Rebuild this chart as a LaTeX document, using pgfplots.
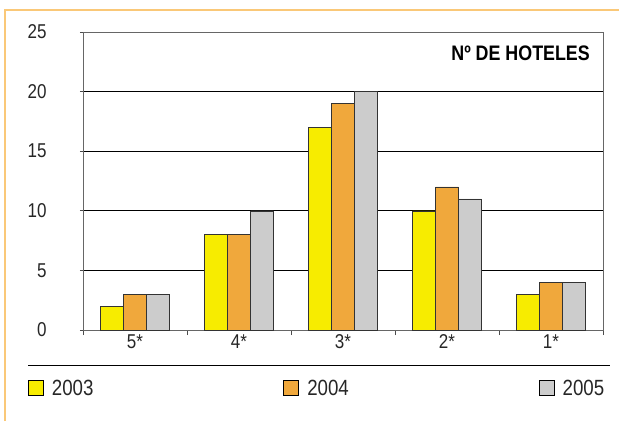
\documentclass[border=0pt]{standalone}
\usepackage{pgfplots}
\pgfplotsset{compat=1.18}
\usepackage{fontspec}
\setmainfont{Liberation Sans}[FakeStretch=0.85]
\definecolor{cyel}{RGB}{247,236,0}
\definecolor{corg}{RGB}{240,168,60}
\definecolor{cgry}{RGB}{204,204,204}
\definecolor{cbrd}{RGB}{250,200,120}
\begin{document}
\begin{tikzpicture}[x=1pt,y=1pt]
\useasboundingbox (0,0) rectangle (619,421);
\draw[cbrd, line width=2pt] (5,0) -- (5,411) -- (619,411);
\begin{axis}[
  at={(83pt,91pt)}, anchor=south west,
  scale only axis, width=520pt, height=298pt,
  ybar=0pt, bar width=23pt,
  xmin=-0.5, xmax=4.5, ymin=0, ymax=25,
  ytick={0,5,...,25},
  xtick={0,1,2,3,4},
  xticklabels={5*,4*,3*,2*,1*},
  minor xtick={-0.5,0.5,1.5,2.5,3.5,4.5},
  major x tick style={draw=none},
  minor tick length=5pt,
  major tick length=3pt,
  tick align=outside,
  xtick pos=bottom, ytick pos=left,
  ymajorgrids, grid style={black, line width=0.8pt},
  axis line style={black!60, line width=0.8pt},
  tick style={black!70, line width=0.8pt},
  /pgf/number format/assume math mode=true,
  tick label style={font=\fontsize{20}{24}\selectfont, black!85},
  yticklabel style={xshift=-30pt},
  xticklabel style={yshift=2pt},
  every axis plot/.append style={draw=black!80, line width=0.6pt},
  legend columns=3,
  legend style={draw=none, fill=none, inner sep=0pt,
    at={(axis description cs:-0.106,-0.195)}, anchor=west,
    font=\fontsize{22}{24}\selectfont,
    nodes={inner sep=0pt, text=black!85},
    /tikz/every odd column/.append style={column sep=8pt},
    /tikz/every even column/.append style={column sep=190pt}},
  legend image code/.code={\draw[#1, draw=black, line width=0.8pt] (0pt,-7.5pt) rectangle (15pt,7.5pt);},
]
\addplot[fill=cyel] coordinates {(0,2) (1,8) (2,17) (3,10) (4,3)};
\addplot[fill=corg] coordinates {(0,3) (1,8) (2,19) (3,12) (4,4)};
\addplot[fill=cgry] coordinates {(0,3) (1,10) (2,20) (3,11) (4,4)};
\legend{2003,2004,2005}
\node[anchor=north east, inner sep=0pt, font=\fontsize{21}{24}\selectfont\bfseries] at (axis description cs:0.975,0.953) {Nº DE HOTELES};
\end{axis}
\draw[black, line width=0.9pt] (28,56) -- (610,56);
\end{tikzpicture}
\end{document}
